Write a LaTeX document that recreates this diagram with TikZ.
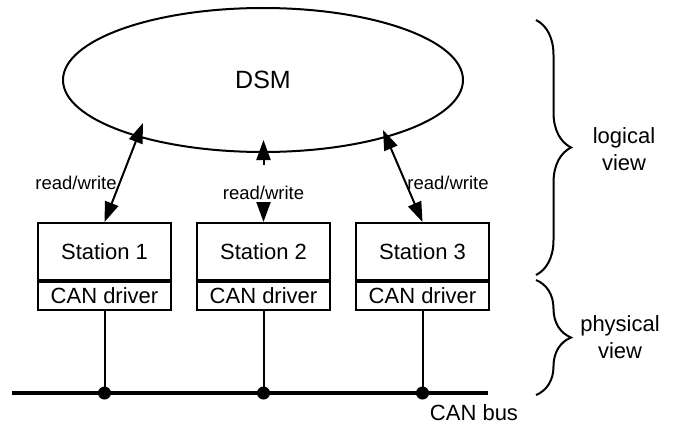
\documentclass[tikz,border=0pt]{standalone}
\usepackage{fontspec}
\setmainfont{Liberation Sans}
\usetikzlibrary{arrows.meta,shapes.geometric,decorations.pathreplacing}
\begin{document}
\begin{tikzpicture}[x=1pt,y=-1pt,
  >={Triangle[length=20pt,width=14pt]},
  every node/.style={inner sep=0pt},
  big/.style={font=\fontsize{22}{27}\selectfont},
  station/.style={draw,big,line width=2pt,minimum width=133pt,minimum height=57pt},
  driver/.style={draw,big,line width=2pt,minimum width=133pt,minimum height=28pt,anchor=north},
  rw/.style={line width=2pt,<->},
  lbl/.style={font=\fontsize{18.5}{22}\selectfont},
  vbrace/.style={decorate,decoration={brace,amplitude=35pt},line width=2pt}]
  \useasboundingbox (0,0) rectangle (676,428);
  % shared memory
  \node [draw,ellipse,line width=2pt,minimum width=400pt,minimum height=144pt,
    font=\fontsize{25}{30}\selectfont] (dsm) at (263,80) {DSM};
  % stations
  \node [station] (st1) at (104.5,251.5) {Station 1};
  \node [driver] (drv1) at (st1.south) {CAN driver};
  \node [station] (st2) at (263.5,251.5) {Station 2};
  \node [driver] (drv2) at (st2.south) {CAN driver};
  \node [station] (st3) at (422.5,251.5) {Station 3};
  \node [driver] (drv3) at (st3.south) {CAN driver};
  % read/write access
  \coordinate (rw1) at (143,123);
  \draw [rw] (rw1) -- (st1.north);
  \node [lbl] (lbl1) at (76,183) {read/write};
  \coordinate (rw2) at (263.5,140);
  \node [lbl,text height=34pt,text depth=4pt] (lbl2) at (263.5,184) {read/write};
  \draw [line width=2pt,->] (lbl2.north) -- (rw2);
  \draw [line width=2pt,->] (lbl2.south) -- (st2.north);
  \coordinate (rw3) at (383,130);
  \draw [rw] (rw3) -- (st3.north);
  \node [lbl] (lbl3) at (448,183) {read/write};
  % bus
  \coordinate (busL) at (12,393);
  \coordinate (busR) at (488,393);
  \draw [line width=4pt] (busL) -- (busR);
  \coordinate (tap1) at (drv1.south |- busL);
  \coordinate (tap2) at (drv2.south |- busL);
  \coordinate (tap3) at (drv3.south |- busL);
  \draw [line width=2pt] (drv1.south) -- (tap1);
  \draw [line width=2pt] (drv2.south) -- (tap2);
  \draw [line width=2pt] (drv3.south) -- (tap3);
  \fill (tap1) circle (6.5pt);
  \fill (tap2) circle (6.5pt);
  \fill (tap3) circle (6.5pt);
  \node [big] (canbus) at (474,413) {CAN bus};
  % views
  \coordinate (lgT) at (536,20);
  \coordinate (lgB) at (536,275);
  \draw [vbrace] (lgT) -- (lgB);
  \node [big,align=center] (logical) at (624,149) {logical\\view};
  \coordinate (phT) at (536,280);
  \coordinate (phB) at (536,395);
  \draw [vbrace] (phT) -- (phB);
  \node [big,align=center] (physical) at (620,337) {physical\\view};
\end{tikzpicture}
\end{document}
